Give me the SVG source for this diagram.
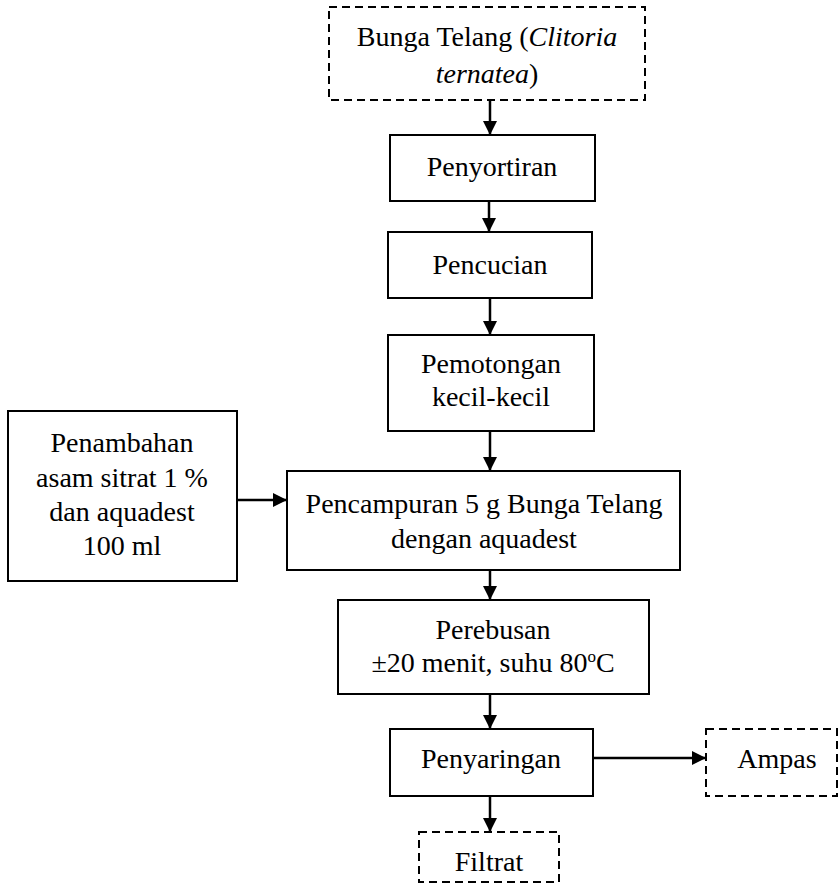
<svg xmlns="http://www.w3.org/2000/svg" width="839" height="884" viewBox="0 0 839 884">
<style>
.box{fill:#fff;stroke:#000;stroke-width:2}
.dash{fill:#fff;stroke:#000;stroke-width:2;stroke-dasharray:8,5}
.t{font-family:"Liberation Serif","Times New Roman",serif;font-size:28px;fill:#000;text-anchor:middle}
.c{stroke:#000;stroke-width:2.5;fill:none;marker-end:url(#ah)}
</style>
<defs>
<marker id="ah" markerUnits="userSpaceOnUse" markerWidth="14" markerHeight="14" viewBox="0 0 14 14" refX="14" refY="7" orient="auto">
<path d="M0,0 L14,7 L0,14 Z" fill="#000"/>
</marker>
</defs>
<rect width="839" height="884" fill="#fff"/>
<g id="connectors">
<line class="c" x1="490" y1="100" x2="490" y2="135"/>
<line class="c" x1="489" y1="201" x2="489" y2="232"/>
<line class="c" x1="490" y1="298" x2="490" y2="335"/>
<line class="c" x1="490" y1="431" x2="490" y2="471"/>
<line class="c" x1="237" y1="500" x2="287" y2="500"/>
<line class="c" x1="490" y1="570" x2="490" y2="600"/>
<line class="c" x1="490" y1="694" x2="490" y2="729"/>
<line class="c" x1="593" y1="758" x2="706" y2="758"/>
<line class="c" x1="490" y1="796" x2="490" y2="832"/>
</g>
<g id="bunga">
<rect class="dash" x="329" y="7" width="316" height="93"/>
<text class="t" x="487" y="46">Bunga Telang (<tspan font-style="italic">Clitoria</tspan></text>
<text class="t" x="487" y="83"><tspan font-style="italic">ternatea</tspan>)</text>
</g>
<g id="penyortiran">
<rect class="box" x="390" y="135" width="205" height="66"/>
<text class="t" x="492" y="176">Penyortiran</text>
</g>
<g id="pencucian">
<rect class="box" x="388" y="232" width="204" height="66"/>
<text class="t" x="490" y="274">Pencucian</text>
</g>
<g id="pemotongan">
<rect class="box" x="388" y="335" width="206" height="96"/>
<text class="t" x="491" y="373">Pemotongan</text>
<text class="t" x="491" y="406">kecil-kecil</text>
</g>
<g id="penambahan">
<rect class="box" x="8" y="411" width="229" height="170"/>
<text class="t" x="122" y="452">Penambahan</text>
<text class="t" x="122" y="487">asam sitrat 1 %</text>
<text class="t" x="122" y="521">dan aquadest</text>
<text class="t" x="122" y="555">100 ml</text>
</g>
<g id="pencampuran">
<rect class="box" x="287" y="471" width="393" height="99"/>
<text class="t" x="484" y="513">Pencampuran 5 g Bunga Telang</text>
<text class="t" x="484" y="548">dengan aquadest</text>
</g>
<g id="perebusan">
<rect class="box" x="338" y="600" width="311" height="94"/>
<text class="t" x="493" y="639">Perebusan</text>
<text class="t" x="493" y="672">±20 menit, suhu 80<tspan font-size="17" dy="-10">o</tspan><tspan dy="10">C</tspan></text>
</g>
<g id="penyaringan">
<rect class="box" x="390" y="729" width="203" height="67"/>
<text class="t" x="491" y="768">Penyaringan</text>
</g>
<g id="ampas">
<rect class="dash" x="706" y="729" width="131" height="67"/>
<text class="t" x="777" y="768">Ampas</text>
</g>
<g id="filtrat">
<rect class="dash" x="419" y="832" width="140" height="50"/>
<text class="t" x="489" y="871">Filtrat</text>
</g>
</svg>
